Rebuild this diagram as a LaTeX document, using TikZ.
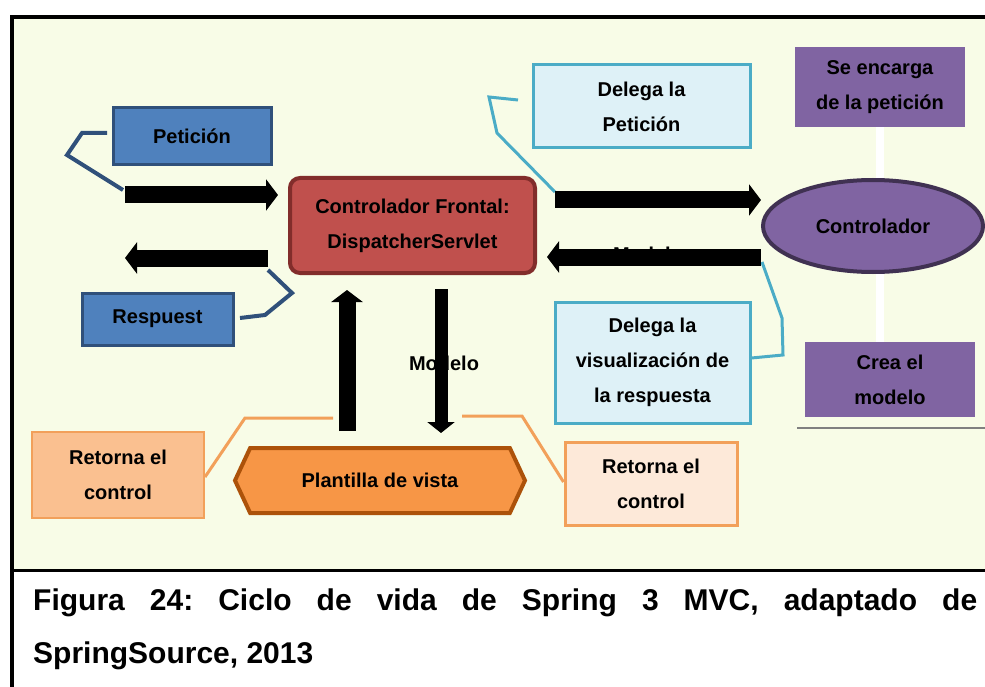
\documentclass[tikz,border=0pt]{standalone}
\usepackage{fontspec}
\setmainfont{Liberation Sans}
\usetikzlibrary{arrows.meta,shapes.geometric,shapes.symbols}

\definecolor{panelbg}{RGB}{248,252,231}
\definecolor{bluefill}{RGB}{79,129,189}
\definecolor{blueline}{RGB}{48,80,122}
\definecolor{redfill}{RGB}{192,80,77}
\definecolor{redline}{RGB}{130,45,43}
\definecolor{purplefill}{RGB}{128,100,162}
\definecolor{purpleline}{RGB}{64,49,82}
\definecolor{orangefill}{RGB}{247,150,70}
\definecolor{orangeline}{RGB}{172,82,10}
\definecolor{peachfill}{RGB}{250,192,144}
\definecolor{paleorange}{RGB}{253,233,217}
\definecolor{orangethin}{RGB}{242,160,90}
\definecolor{cyanfill}{RGB}{222,241,247}
\definecolor{cyanline}{RGB}{75,172,198}

\begin{document}
\frenchspacing
\begin{tikzpicture}[x=1pt,y=-1pt,
  lbl/.style={font=\fontsize{20}{35}\selectfont\bfseries, align=center, inner sep=0pt},
  box/.style={lbl, rectangle, line width=3pt},
  bluebox/.style={box, fill=bluefill, draw=blueline},
  cyanbox/.style={box, fill=cyanfill, draw=cyanline},
  purplebox/.style={box, fill=purplefill},
  blockarrow/.style={line width=17pt, -{Triangle[width=31pt,length=12pt]}},
  thinarrow/.style={line width=13pt, -{Triangle[width=27pt,length=11pt]}},
  bracketblue/.style={draw=blueline, line width=4pt},
  bracketcyan/.style={draw=cyanline, line width=3pt},
  bracketorange/.style={draw=orangethin, line width=3pt}]

\useasboundingbox (0,0) rectangle (985,687);

% panel and frame
\fill[panelbg] (12,17) rectangle (990,570);
\draw[line width=4pt] (12,17) rectangle (1000,720);
\draw[line width=3pt] (12,570) -- (1000,570);

% faint link between the two purple boxes
\draw[white, line width=8pt] (880,127) -- (880,342);
\draw[gray, line width=2pt] (797,428) -- (990,428);

% nodes
\node[bluebox, minimum width=158pt, minimum height=57pt] (peticion) at (192,136.5) {Petición};
\node[bluebox, minimum width=151pt, minimum height=52pt] (respuesta) at (157.5,319) {Respuest};
\node[box, fill=redfill, draw=redline, line width=4pt, rounded corners=10pt,
      minimum width=245pt, minimum height=95pt] (front) at (412.5,225.5)
      {Controlador Frontal:\\DispatcherServlet};
\node[cyanbox, minimum width=217pt, minimum height=83pt] (delega1) at (641.5,106.5) {Delega la\\Petición};
\node[cyanbox, minimum width=195pt, minimum height=121pt] (delega2) at (652.5,362.5)
      {Delega la\\visualización de\\la respuesta};
\node[purplebox, minimum width=170pt, minimum height=80pt] (encarga) at (880,87) {Se encarga\\de la petición};
\node[purplebox, minimum width=170pt, minimum height=75pt] (crea) at (890,379.5) {Crea el\\modelo};
\node[lbl, ellipse, fill=purplefill, draw=purpleline, line width=4pt,
      minimum width=220pt, minimum height=92pt] (ctrl) at (873,226) {Controlador};
\node[lbl, signal, signal to=west and east, signal pointer angle=130,
      fill=orangefill, draw=orangeline, line width=4pt,
      minimum width=290pt, minimum height=65pt] (vista) at (380,480.5) {Plantilla de vista};
\node[box, fill=peachfill, draw=orangethin, line width=2pt,
      minimum width=172pt, minimum height=86pt] (retorna1) at (118,475) {Retorna el\\control};
\node[box, fill=paleorange, draw=orangethin,
      minimum width=172pt, minimum height=83pt] (retorna2) at (651,483.5) {Retorna el\\control};

% brackets joining the notes to the arrows
\coordinate (pStub) at (107,133);
\coordinate (rStub) at (240,318);
\coordinate (dStub) at (518,100);
\draw[bracketblue] (pStub) -- (82,133) -- (67,155) -- (123,190);
\draw[bracketblue] (rStub) -- (265,315) -- (292,293) -- (268,270);
\draw[bracketcyan] (dStub) -- (489,97) -- (497,133) -- (555,192);
\draw[bracketcyan] (762,262) -- (782,318) -- (783,355) -- (delega2.east |- 0,358);
\draw[bracketorange] (retorna1.east |- 0,477) -- (245,418) -- (333,418);
\draw[bracketorange] (retorna2.west |- 0,482) -- (522,416) -- (462,416);

% labels under the arrows
\node[lbl] (modelo1) at (444,363) {Modelo};
\node[lbl] (modelo2) at (648,254) {Modelo};

% block arrows
\coordinate (inStart) at (125,195);
\coordinate (outEnd) at (125,258);
\coordinate (rowA) at (0,200);
\coordinate (rowB) at (0,257);
\coordinate (upcol) at (347,0);
\coordinate (dncol) at (441,0);

\draw[blockarrow, shorten >=10pt] (inStart) -- (front.west |- inStart);
\draw[blockarrow, shorten <=20pt] (front.west |- outEnd) -- (outEnd);
\draw[blockarrow, shorten <=18pt] (front.east |- rowA) -- (ctrl.west |- rowA);
\draw[blockarrow, shorten >=10pt] (ctrl.west |- rowB) -- (front.east |- rowB);
\draw[blockarrow, shorten <=15pt, shorten >=15pt] (vista.north -| upcol) -- (front.south -| upcol);
\draw[thinarrow, shorten <=14pt, shorten >=13pt] (front.south -| dncol) -- (vista.north -| dncol);

% caption
\node[font=\fontsize{30}{36}\selectfont\bfseries, anchor=base west, inner sep=0pt] (cap1) at (33,610)
  {\makebox[944pt][s]{Figura 24: Ciclo de vida de Spring 3 MVC, adaptado de}};
\node[font=\fontsize{30}{36}\selectfont\bfseries, anchor=base west, inner sep=0pt] (cap2) at (33,663)
  {SpringSource, 2013};
\end{tikzpicture}
\end{document}
